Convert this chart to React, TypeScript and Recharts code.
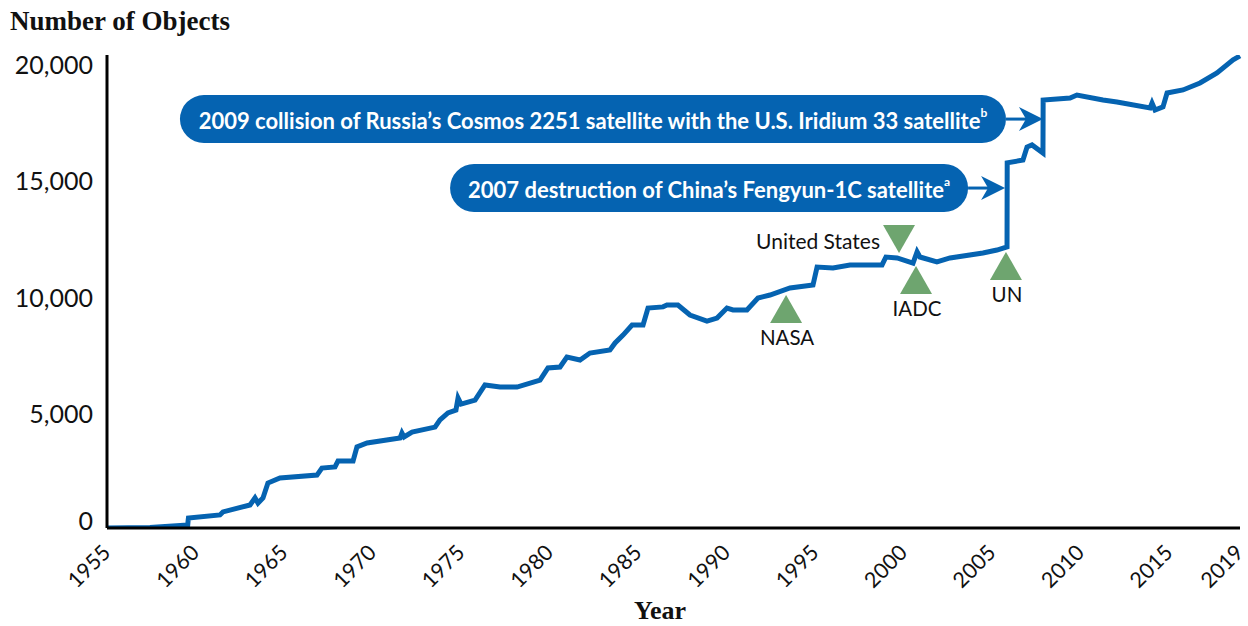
import React from 'react';
import { LineChart, Line, XAxis, YAxis, ReferenceDot } from 'recharts';

// cataloged objects over time
const years = [
  1955.0, 1957.43, 1959.56, 1959.58, 1959.6, 1961.38, 1961.55, 1963.08, 1963.36, 1963.53, 1963.81,
  1964.09, 1964.77, 1966.86, 1967.14, 1967.88, 1968.05, 1968.9, 1969.12, 1969.69, 1971.55,
  1971.66, 1971.78, 1972.23, 1973.53, 1973.81, 1974.26, 1974.71, 1974.83, 1975.0, 1975.79,
  1976.35, 1977.2, 1978.16, 1979.46, 1979.91, 1980.59, 1980.98, 1981.72, 1982.28, 1983.41,
  1983.7, 1984.15, 1984.66, 1985.28, 1985.56, 1986.41, 1986.63, 1987.25, 1987.93, 1988.89,
  1989.46, 1990.02, 1990.36, 1991.15, 1991.77, 1992.45, 1993.58, 1994.88, 1995.11, 1996.01,
  1996.97, 1998.78, 1999.0, 1999.63, 2000.53, 2000.76, 2000.92, 2001.88, 2002.62, 2004.48,
  2005.27, 2005.84, 2005.85, 2006.74, 2006.97, 2007.25, 2007.87, 2007.88, 2009.4, 2009.79,
  2011.26, 2012.05, 2013.92, 2014.03, 2014.2, 2014.65, 2014.88, 2015.78, 2016.74, 2017.7,
  2018.61, 2019.0,
];
const objects = [
  0, 20, 130, 300, 430, 560, 690, 990, 1290, 1070, 1290,
  1930, 2150, 2270, 2570, 2620, 2880, 2880, 3480, 3650, 3860,
  4080, 3910, 4120, 4330, 4640, 4940, 5060, 5580, 5320, 5490,
  6140, 6050, 6050, 6350, 6870, 6910, 7340, 7210, 7510, 7640,
  7940, 8280, 8710, 8710, 9440, 9490, 9570, 9570, 9140, 8880,
  9010, 9440, 9360, 9360, 9870, 10000, 10300, 10430, 11200, 11160,
  11290, 11290, 11630, 11590, 11370, 11850, 11630, 11420, 11590, 11800,
  11930, 12060, 15670, 15790, 16350, 16440, 16090, 18370, 18450, 18580,
  18370, 18280, 18030, 18240, 17940, 18070, 18670, 18800, 19100, 19530,
  20090, 20260,
];

const xTicks = [1955, 1960, 1965, 1970, 1975, 1980, 1985, 1990, 1995, 2000, 2005, 2010, 2015, 2019];
const yTicks = [0, 5000, 10000, 15000, 20000];

// policy milestones (green markers)
const markers = [
  { name: 'NASA', year: 1993.36, value: 10000, dir: 'up' },
  { name: 'United States', year: 1999.74, value: 11800, dir: 'down' },
  { name: 'IADC', year: 2000.7, value: 11240, dir: 'up' },
  { name: 'UN', year: 2005.78, value: 11850, dir: 'up' },
];

// callouts for the two big breakup events
const callouts = [
  { text: '2009 collision of Russia\u2019s Cosmos 2251 satellite with the U.S. Iridium 33 satellite', note: 'b', year: 2007.87, value: 17550, width: 826 },
  { text: '2007 destruction of China\u2019s Fengyun-1C satellite', note: 'a', year: 2005.73, value: 14590, width: 518 },
];

const data = years.map((y, i) => ({ year: y, objects: objects[i] }));

const BLUE = '#0563b1';
const GREEN = '#6ea56f';
const FONT = 'Lato, "Open Sans", sans-serif';

const XTick = ({ x, y, payload }: any) => (
  <g transform={`translate(${x - 6},${y + 15}) rotate(-45)`}>
    <text textAnchor='end' dy='0.72em' fontSize={21.5} fontFamily={FONT} fill='#111'>
      {payload.value}
    </text>
  </g>
);

const YTick = ({ x, y, payload }: any) => (
  <text
    x={x}
    y={y + (payload.value === 0 ? -8 : 2)}
    textAnchor='end'
    dominantBaseline='central'
    fontSize={25}
    fontFamily={FONT}
    fill='#111'
  >
    {payload.value.toLocaleString('en-US')}
  </text>
);

const markerShape = (m: any) => (props: any) => {
  const { cx, cy } = props;
  const w = 16;
  const h = 28;
  if (m.dir === 'up') {
    return (
      <g>
        <path d={`M${cx},${cy} L${cx + w},${cy + h} L${cx - w},${cy + h} Z`} fill={GREEN} />
        <text x={cx + 1} y={cy + 42} textAnchor='middle' dominantBaseline='central' fontSize={20.5} fontFamily={FONT} fill='#111'>
          {m.name}
        </text>
      </g>
    );
  }
  return (
    <g>
      <path d={`M${cx},${cy} L${cx + w},${cy - h} L${cx - w},${cy - h} Z`} fill={GREEN} />
      <text x={cx - 19} y={cy - 13} textAnchor='end' dominantBaseline='central' fontSize={21} fontFamily={FONT} fill='#111'>
        {m.name}
      </text>
    </g>
  );
};

const calloutShape = (c: any) => (props: any) => {
  const { cx, cy } = props;
  const h = 48;
  const right = cx - 37;
  const left = right - c.width;
  return (
    <g>
      <rect x={left} y={cy - h / 2} width={c.width} height={h} rx={h / 2} ry={h / 2} fill={BLUE} />
      <line x1={right} y1={cy} x2={cx - 6} y2={cy} stroke={BLUE} strokeWidth={3} />
      <path d={`M${cx},${cy} L${cx - 24},${cy - 12} L${cx - 17},${cy} L${cx - 24},${cy + 12} Z`} fill={BLUE} />
      <text
        x={(left + right) / 2}
        y={cy + 1}
        textAnchor='middle'
        dominantBaseline='central'
        fontSize={22}
        fontWeight={700}
        fontFamily={FONT}
        fill='#fff'
      >
        {c.text}
        <tspan fontSize={12} dy={-8}>{c.note}</tspan>
      </text>
    </g>
  );
};

const DebrisChart: React.FC = () => {
  return (
    <div style={{ position: 'absolute', left: 0, top: 0, width: 1248, height: 626, background: '#fff' }}>
      <LineChart width={1248} height={626} data={data} margin={{ top: 55, right: 8, bottom: 38, left: 0 }}>
        <XAxis
          dataKey='year'
          type='number'
          domain={[1955, 2019]}
          ticks={xTicks}
          tick={<XTick />}
          tickLine={false}
          tickSize={0}
          tickMargin={0}
          height={60}
          axisLine={{ stroke: '#000', strokeWidth: 3 }}
          interval={0}
        />
        <YAxis
          type='number'
          domain={[0, 20300]}
          allowDataOverflow
          ticks={yTicks}
          tick={<YTick />}
          tickLine={false}
          tickSize={0}
          tickMargin={14}
          width={107}
          axisLine={{ stroke: '#000', strokeWidth: 3 }}
          interval={0}
        />
        <Line
          type='linear'
          dataKey='objects'
          stroke={BLUE}
          strokeWidth={5}
          dot={false}
          isAnimationActive={false}
        />
        {markers.map((m) => (
          <ReferenceDot key={m.name} x={m.year} y={m.value} r={1} shape={markerShape(m)} ifOverflow='visible' />
        ))}
        {callouts.map((c) => (
          <ReferenceDot key={c.note} x={c.year} y={c.value} r={1} shape={calloutShape(c)} ifOverflow='visible' />
        ))}
      </LineChart>
      <svg width={1248} height={626} style={{ position: 'absolute', left: 0, top: 0, pointerEvents: 'none' }}>
        <text x={10} y={30} fontSize={27} fontWeight={700} fontFamily='"Liberation Serif", serif' fill='#111'>
          Number of Objects
        </text>
        <text x={660} y={619} textAnchor='middle' fontSize={26} fontWeight={700} fontFamily='"Liberation Serif", serif' fill='#111'>
          Year
        </text>
      </svg>
    </div>
  );
};

export default DebrisChart;
